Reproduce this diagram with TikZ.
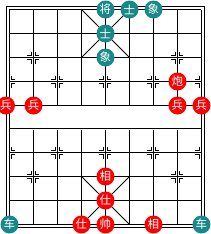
\documentclass[tikz,border=0pt]{standalone}
\usepackage{fontspec}
\newfontfamily\cjk{Noto Sans CJK SC}
\definecolor{xqteal}{RGB}{24,136,136}
\definecolor{xqred}{RGB}{255,0,0}
\tikzset{
  gridline/.style={line width=1pt, draw=black},
  palace/.style={line width=0.8pt, draw=black},
  posmark/.style={line width=1pt, draw=black},
  piece/.style={circle, minimum size=18pt, inner sep=0pt, text=white,
    font=\cjk\fontsize{11.5}{11.5}\selectfont},
  redp/.style={piece, fill=xqred},
  tealp/.style={piece, fill=xqteal}
}
\begin{document}
\begin{tikzpicture}[x=1pt,y=-1pt]
\useasboundingbox (0,0) rectangle (210,234);
% outer border
\draw[gridline] (6.5,6.5) rectangle (204.5,227.5);
% horizontal lines
\foreach \j [evaluate=\j as \yy using {floor(9.5+23.9*\j)+0.5}] in {0,...,9}
  \draw[gridline] (9.5,\yy) -- (201.5,\yy);
% edge verticals
\draw[gridline] (9.5,9.5) -- (9.5,224.5);
\draw[gridline] (201.5,9.5) -- (201.5,224.5);
% interior verticals (broken at the river)
\foreach \i [evaluate=\i as \xx using {9.5+24*\i}] in {1,...,7} {
  \draw[gridline] (\xx,9.5) -- (\xx,105.5);
  \draw[gridline] (\xx,129.5) -- (\xx,224.5);
}
% palace diagonals
\draw[palace] (81.5,9.5) -- (129.5,57.5);
\draw[palace] (129.5,9.5) -- (81.5,57.5);
\draw[palace] (81.5,176.5) -- (129.5,224.5);
\draw[palace] (129.5,176.5) -- (81.5,224.5);
% position marks
\foreach \i/\j/\sxs [evaluate=\i as \xx using {9.5+24*\i}, evaluate=\j as \yy using {floor(9.5+23.9*\j)+0.5}] in
   {1/2/{-1,1}, 7/2/{-1,1}, 0/3/{1}, 2/3/{-1,1}, 4/3/{-1,1}, 6/3/{-1,1}, 8/3/{-1},
    0/6/{1}, 2/6/{-1,1}, 4/6/{-1,1}, 6/6/{-1,1}, 8/6/{-1}, 1/7/{-1,1}, 7/7/{-1,1}} {
  \foreach \sx in \sxs {
    \foreach \sy in {-1,1} {
      \draw[posmark] (\xx+\sx*2, \yy+\sy*6) -- (\xx+\sx*2, \yy+\sy*2) -- (\xx+\sx*6, \yy+\sy*2);
    }
  }
}
% black (teal) pieces
\node[tealp] (bk)  at (105.5, 9.5)  {将};
\node[tealp] (ba1) at (129.5, 9.5)  {士};
\node[tealp] (be1) at (153.5, 9.5)  {象};
\node[tealp] (ba2) at (105.5, 33.5) {士};
\node[tealp] (be2) at (105.5, 57.5) {象};
\node[tealp] (br1) at (9.5, 224.5)  {车};
\node[tealp] (br2) at (201.5, 224.5) {车};
% red pieces
\node[redp] (rc)  at (177.5, 81.5)  {炮};
\node[redp] (rs1) at (6, 105.5)     {兵};
\node[redp] (rs2) at (33.5, 105.5)  {兵};
\node[redp] (rs3) at (177.5, 105.5) {兵};
\node[redp] (rs4) at (201.5, 105.5) {兵};
\node[redp] (re1) at (105.5, 176.5) {相};
\node[redp] (ra1) at (105.5, 200.5) {仕};
\node[redp] (ra2) at (81.5, 224.5)  {仕};
\node[redp] (rk)  at (105.5, 224.5) {帅};
\node[redp] (re2) at (153.5, 224.5) {相};
\end{tikzpicture}
\end{document}
